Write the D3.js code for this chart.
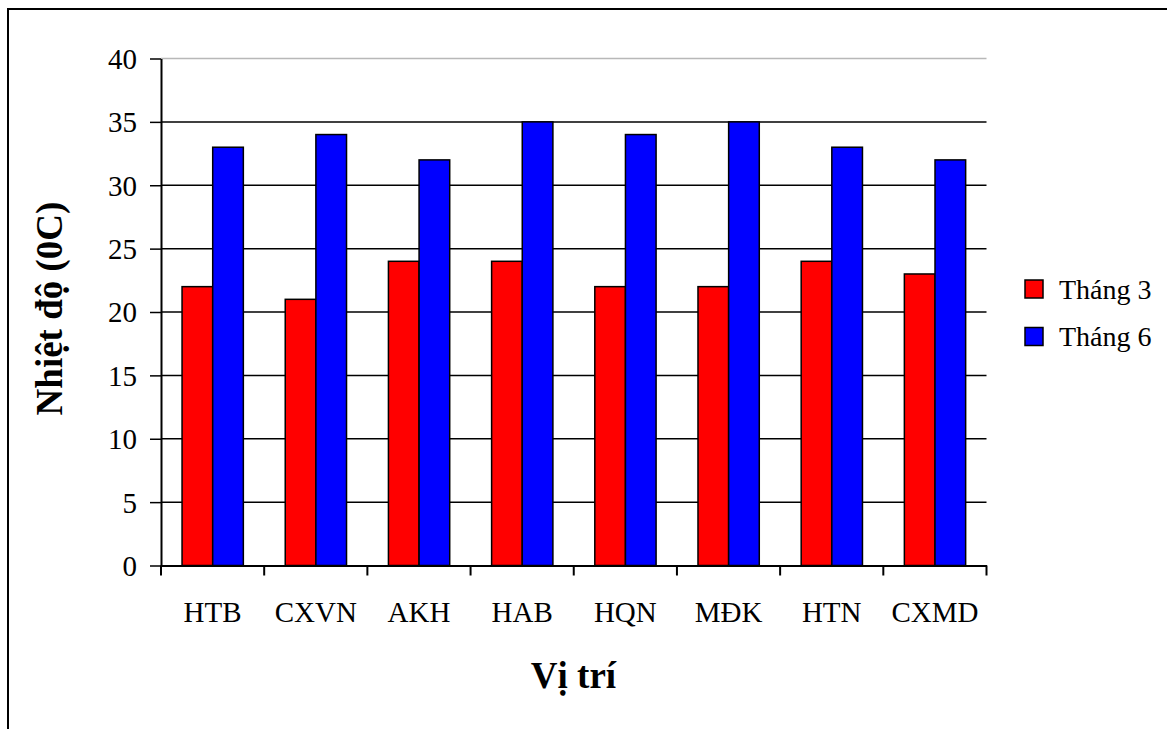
<!DOCTYPE html>
<html>
<head>
<meta charset="utf-8">
<script src="https://cdn.jsdelivr.net/npm/d3@7"></script>
<style>
  html, body { margin: 0; padding: 0; background: #fff; }
  svg { display: block; }
  svg text { font-family: "Liberation Serif", "Times New Roman", serif !important; fill: #000; }
</style>
</head>
<body>
<svg id="chart" width="1167" height="729"></svg>
<script>
const categories = ["HTB", "CXVN", "AKH", "HAB", "HQN", "MĐK", "HTN", "CXMD"];
const seriesNames = ["Tháng 3", "Tháng 6"];
const thang3 = [22, 21, 24, 24, 22, 22, 24, 23];
const thang6 = [33, 34, 32, 35, 34, 35, 33, 32];
const yTicks = [0, 5, 10, 15, 20, 25, 30, 35, 40];
const colors = ["#ff0000", "#0000ff"];

const svg = d3.select("#chart");
const plotL = 161, plotR = 986.5, plotT = 58.5, plotB = 565.5;
const SERIF = '"Liberation Serif", "Times New Roman", serif';

// outer border (extends beyond the visible frame)
svg.append("rect").attr("x", 8).attr("y", 9).attr("width", 1200).attr("height", 800)
  .attr("fill", "none").attr("stroke", "#000").attr("stroke-width", 2);

const x = d3.scaleBand().domain(categories).range([plotL, plotR]).padding(0);
const y = d3.scaleLinear().domain([0, 40]).range([plotB, plotT]);

// gridlines
svg.append("g").selectAll("line").data(yTicks.filter(d => d > 0)).join("line")
  .attr("x1", plotL).attr("x2", plotR)
  .attr("y1", d => y(d)).attr("y2", d => y(d))
  .attr("stroke", d => d === 40 ? "#b8b8b8" : "#000")
  .attr("stroke-width", 1.5);

// bars
const step = x.bandwidth();
const barW = step * 0.297;
const off = step * 0.204;
const data = [];
categories.forEach((c, i) => {
  data.push({ c, s: 0, v: thang3[i] });
  data.push({ c, s: 1, v: thang6[i] });
});
svg.append("g").selectAll("rect").data(data).join("rect")
  .attr("x", d => x(d.c) + off + d.s * barW)
  .attr("y", d => y(d.v))
  .attr("width", barW)
  .attr("height", d => y(0) - y(d.v))
  .attr("fill", d => colors[d.s])
  .attr("stroke", "#000").attr("stroke-width", 1.5);

// y axis
const yAxis = d3.axisLeft(y).tickValues(yTicks).tickSize(11).tickPadding(13).tickSizeOuter(0);
const gy = svg.append("g").attr("transform", `translate(${plotL},0)`).call(yAxis)
  .attr("font-family", SERIF).attr("font-size", 29);
gy.select(".domain").attr("stroke", "#000").attr("stroke-width", 2);
gy.selectAll(".tick line").attr("stroke", "#000").attr("stroke-width", 1.5);
gy.selectAll(".tick text").style("font-family", SERIF).style("font-size", "29px").attr("dy", "0.34em");

// x axis
const xAxis = d3.axisBottom(x).tickSize(0).tickPadding(0);
const gx = svg.append("g").attr("transform", `translate(0,${plotB})`).call(xAxis)
  .attr("font-family", SERIF).attr("font-size", 29);
gx.select(".domain").attr("stroke", "#000").attr("stroke-width", 2);
gx.selectAll(".tick text").style("font-family", SERIF).style("font-size", "29px")
  .attr("dy", null).attr("y", 56);
// boundary ticks
const bounds = categories.map(c => x(c)).concat([plotR]);
svg.append("g").selectAll("line").data(bounds).join("line")
  .attr("x1", d => d).attr("x2", d => d)
  .attr("y1", plotB).attr("y2", plotB + 10)
  .attr("stroke", "#000").attr("stroke-width", 2);

// axis titles
svg.append("text").attr("x", 573.5).attr("y", 688).attr("text-anchor", "middle")
  .style("font-family", SERIF).attr("font-size", 37).attr("font-weight", "bold").text("Vị trí");
svg.append("text").attr("transform", "translate(62,308.5) rotate(-90)")
  .attr("text-anchor", "middle").style("font-family", SERIF).attr("font-size", 37).attr("font-weight", "bold")
  .text("Nhiệt độ (0C)");

// legend
const lg = svg.append("g");
seriesNames.forEach((n, i) => {
  const yy = 289 + i * 47.5;
  lg.append("rect").attr("x", 1025).attr("y", yy - 9).attr("width", 18).attr("height", 18)
    .attr("fill", colors[i]).attr("stroke", "#000").attr("stroke-width", 1.5);
  lg.append("text").attr("x", 1059).attr("y", yy + 9.5).style("font-family", SERIF)
    .attr("font-size", 28).text(n);
});
</script>
</body>
</html>
